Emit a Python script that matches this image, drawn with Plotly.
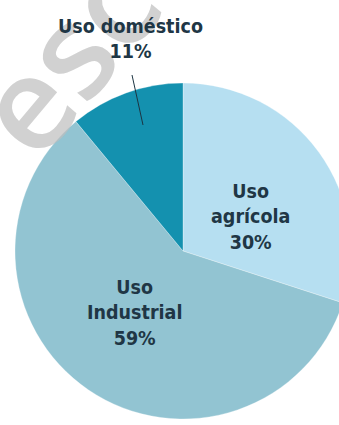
import plotly.graph_objects as go

# Water use shares
categories = ["Uso agrícola", "Uso Industrial", "Uso doméstico"]
label_lines = [["Uso", "agrícola"], ["Uso", "Industrial"], ["Uso doméstico"]]
shares = [30, 59, 11]
slice_colors = ["#b6dff1", "#92c4d2", "#1491af"]

# Canvas and pie geometry (pixels)
W, H = 366, 425
M_L, M_R, M_T, M_B = 15, 15, 83, 6
PW, PH = W - M_L - M_R, H - M_T - M_B


def px(x):
    return (x - M_L) / PW


def py(y):
    return (H - M_B - y) / PH


TEXT_COLOR = "#203645"
LABEL_FONT = dict(family="DejaVu Sans Condensed", size=19.5, color=TEXT_COLOR)

fig = go.Figure(
    go.Pie(
        labels=categories,
        values=shares,
        marker=dict(colors=slice_colors, line=dict(color="rgba(255,255,255,0.5)", width=0.6)),
        sort=False,
        direction="clockwise",
        rotation=0,
        textinfo="none",
        hoverinfo="skip",
        showlegend=False,
        domain=dict(x=[0, 1], y=[0, 1]),
    )
)


def label_text(i):
    return "<b>" + "<br>".join(label_lines[i] + [f"{shares[i]}%"]) + "</b>"


# label anchor points (pixel centres)
label_pos = [(250, 217), (134, 313), (130, 39)]

annotations = []

# faint publisher mark in the top-left corner
annotations.append(
    dict(
        x=px(63), y=py(55), xref="paper", yref="paper",
        text="esc", showarrow=False, textangle=-50,
        font=dict(family="Open Sans", size=130, color="rgba(190,190,190,0.7)", weight=600),
        xanchor="center", yanchor="middle",
    )
)

for i, (lx, ly) in enumerate(label_pos):
    annotations.append(
        dict(
            x=px(lx), y=py(ly), xref="paper", yref="paper",
            text=label_text(i), showarrow=False,
            font=LABEL_FONT, align="center",
            xanchor="center", yanchor="middle",
        )
    )

# leader line for the small slice
shapes = [
    dict(
        type="line", xref="paper", yref="paper",
        x0=px(132), y0=py(75), x1=px(143), y1=py(125),
        line=dict(color="#1c3442", width=1),
    )
]

fig.update_layout(
    width=W, height=H,
    margin=dict(l=M_L, r=M_R, t=M_T, b=M_B),
    paper_bgcolor="white",
    plot_bgcolor="white",
    annotations=annotations,
    shapes=shapes,
)

fig.write_html(
    "out.html",
    post_script="document.documentElement.style.overflow='hidden';document.body.style.overflow='hidden';",
)
